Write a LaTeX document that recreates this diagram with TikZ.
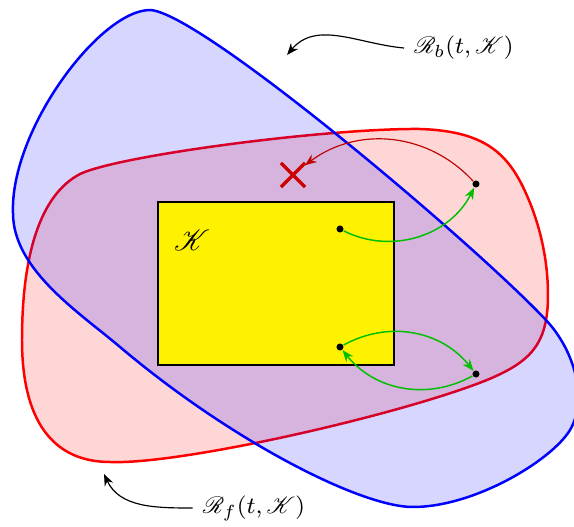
\documentclass[tikz,border=0pt]{standalone}
\usepackage{amsmath}
\usepackage{mathrsfs}
\usetikzlibrary{arrows.meta,shapes.misc}

\begin{document}
\begin{tikzpicture}[
      x=0.012cm, y=0.012cm,
      region/.style={line width=0.85pt, fill opacity=0.16},
      dot/.style={circle, fill=black, inner sep=0pt, minimum size=2.4pt},
      tag/.style={font=\footnotesize},
      reacharrow/.style={-{Stealth[length=1.4mm, width=1.1mm]}, line width=0.5pt, draw=green!75!black},
      lostarrow/.style={-{Stealth[length=1.4mm, width=1.1mm]}, line width=0.4pt, draw=red!75!black},
      tagarrow/.style={-{Stealth[length=1.4mm, width=1.1mm]}, line width=0.4pt, draw=black}
    ]
    \useasboundingbox (0,0) rectangle (574,527);
    \clip (0,0) rectangle (574,527);

    % forward reachable set
    \filldraw[region, draw=red, fill=red]
      (110,65) .. controls (60,65) and (22,97) .. (22,187)
      .. controls (22,272) and (40,332) .. (80,353)
      .. controls (120,372) and (330,399) .. (420,398)
      .. controls (480,396) and (505,377) .. (523,340)
      .. controls (540,305) and (548,267) .. (548,232)
      .. controls (548,182) and (530,165) .. (487,147)
      .. controls (400,112) and (180,62) .. (110,65) -- cycle;

    % backward reachable set
    \filldraw[region, draw=blue, fill=blue]
      (13,314) .. controls (10,397) and (100,517) .. (150,517)
      .. controls (200,515) and (470,287) .. (545,208)
      .. controls (575,177) and (588,127) .. (570,97)
      .. controls (552,67) and (475,20) .. (413,20)
      .. controls (360,20) and (230,87) .. (120,180)
      .. controls (80,214) and (13,257) .. (13,314) -- cycle;

    % target set
    \draw[fill=yellow, line width=0.4pt] (158,162) rectangle (394,325);
    \node (K) at (192,287) {$\mathscr{K}$};

    \node[dot] (p1) at (340,298) {};
    \node[dot] (p2) at (476,343) {};
    \node[dot] (p3) at (340,180) {};
    \node[dot] (p4) at (476,153) {};
    \node[cross out, draw=red!80!black, line width=1.2pt, minimum size=7pt,
      inner sep=0pt] (miss) at (293,352) {};

    \draw[reacharrow] (p1) to[bend right=45] (p2);
    \draw[lostarrow] (p2) to[bend right=42] (miss);
    \draw[reacharrow] (p3) to[bend left=40] (p4);
    \draw[reacharrow] (p4) to[bend left=40] (p3);

    % labels
    \node[tag] (rb) at (464,479) {$\mathscr{R}_b(t,\mathscr{K})$};
    \node[tag] (rf) at (254,19) {$\mathscr{R}_f(t,\mathscr{K})$};
    \coordinate (rbtip) at (287,472);
    \coordinate (rftip) at (104,53);
    \draw[tagarrow] (rb.west) to[out=175, in=50] (rbtip);
    \draw[tagarrow] (rf.west) to[out=180, in=-65] (rftip);
  \end{tikzpicture}
\end{document}
